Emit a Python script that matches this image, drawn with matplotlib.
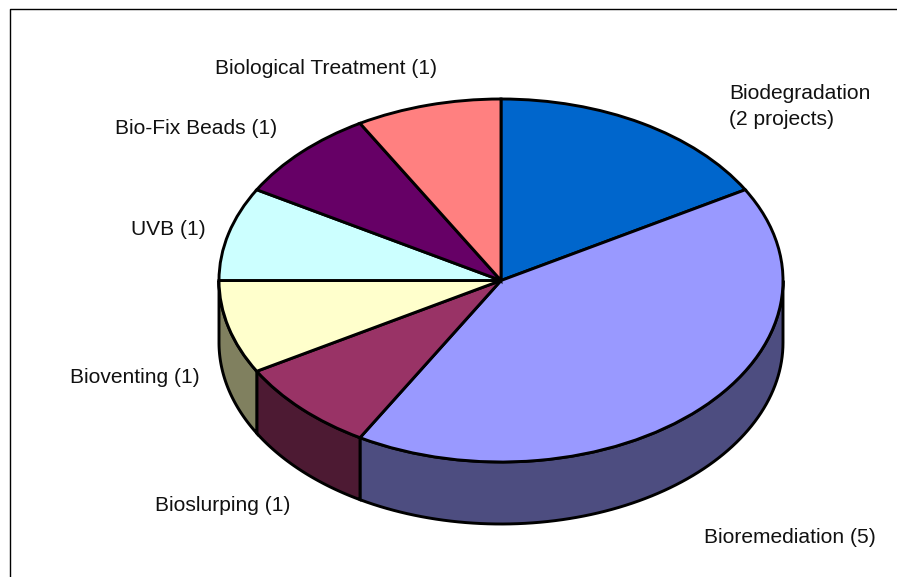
import numpy as np
import matplotlib
matplotlib.use("Agg")
import matplotlib.pyplot as plt
from matplotlib.patches import Polygon

plt.rcParams['font.family'] = ['Liberation Sans', 'DejaVu Sans']

labels = ["Biodegradation\n(2 projects)", "Bioremediation (5)", "Bioslurping (1)", "Bioventing (1)",
          "UVB (1)", "Bio-Fix Beads (1)", "Biological Treatment (1)"]
values = [2, 5, 1, 1, 1, 1, 1]
colors = ["#0066CC", "#9999FF", "#993366", "#FFFFCC", "#CCFFFF", "#660066", "#FF8080"]
side_colors = ["#00336A", "#4D4D80", "#4D1A33", "#80805F", "#668080", "#330033", "#804040"]

# label anchor in pixels of the picture
label_x = [729, 704, 155, 70, 131, 115, 215]
label_y = [106.5, 537.5, 505.5, 377.5, 229.5, 128, 68]

W, H = 897, 577
cx, cy = 501, 280.5
rx, ry = 282, 181.5
depth = 62

fig = plt.figure(figsize=(W / 100, H / 100), dpi=100)
ax = fig.add_axes([0, 0, 1, 1])
ax.set_xlim(0, W)
ax.set_ylim(H, 0)
ax.axis('off')

# outer frame, only left and top show
ax.plot([9.5, 9.5, 897], [577, 8.5, 8.5], color='black', lw=1, zorder=1, clip_on=False)

# side wall first, only the lower half of the ellipse shows
fractions = np.cumsum([0] + values) / sum(values)
for i in range(len(values)):
    a0 = max(fractions[i] * 360, 90)
    a1 = min(fractions[i + 1] * 360, 270)
    if a1 <= a0:
        continue
    t = np.radians(np.linspace(a0, a1, 80))
    x = cx + rx * np.sin(t)
    y = cy - ry * np.cos(t)
    pts = np.vstack([np.column_stack([x, y]), np.column_stack([x, y + depth])[::-1]])
    ax.add_patch(Polygon(pts, closed=True, facecolor=side_colors[i], edgecolor='black', lw=2.1, zorder=2))

# top of the pie, squashed by drawing it on an axes with unequal scale
ax_top = fig.add_axes([(cx - rx) / W, 1 - (cy + ry) / H, 2 * rx / W, 2 * ry / H], zorder=3)
ax_top.pie(values, colors=colors, startangle=90, counterclock=False, radius=1,
           wedgeprops=dict(edgecolor='black', linewidth=2.1))
ax_top.set_aspect('auto')
ax_top.set_xlim(-1, 1)
ax_top.set_ylim(-1, 1)
ax_top.axis('off')
for p in ax_top.patches:
    p.set_clip_on(False)

for lab, lx, ly in zip(labels, label_x, label_y):
    ax.text(lx, ly, lab, fontsize=15.15, color='#111111', ha='left', va='center', linespacing=1.42, zorder=5)

fig.savefig("out.png", dpi=100)
